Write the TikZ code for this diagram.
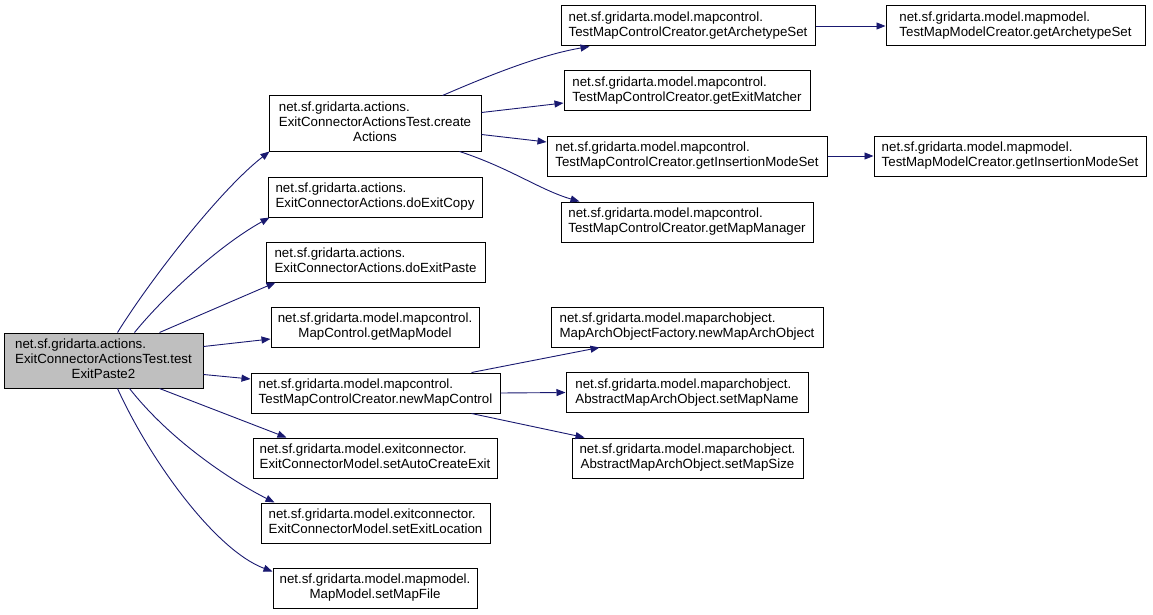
\documentclass[tikz,border=0pt]{standalone}
\usepackage{fontspec}
\setmainfont{Liberation Sans}
\usetikzlibrary{arrows.meta,calc}
\definecolor{edgeblue}{RGB}{25,25,112}
\definecolor{rootgray}{RGB}{191,191,191}
\newcommand{\lbl}[2]{\begin{tabular}{@{}l@{}}#1\\\multicolumn{1}{@{}c@{}}{#2}\end{tabular}}
\begin{document}
\begin{tikzpicture}[x=1pt,y=1pt,
  box/.style={draw=black,line width=1pt,fill=white,inner sep=0pt,minimum height=40pt,
    font=\fontsize{13.3}{15}\selectfont},
  rootbox/.style={box,fill=rootgray},
  edge/.style={draw=edgeblue,line width=0.9pt,-{Triangle[length=9pt,width=7pt]}}]
\useasboundingbox (0,0) rectangle (1153,-615);
% left
\node[rootbox,minimum width=199pt,minimum height=55pt] (root) at (103.5,-360.5) {\lbl{net.sf.gridarta.actions.\\ExitConnectorActionsTest.test}{ExitPaste2}};
% middle column
\node[box,minimum width=212pt,minimum height=55pt] (create) at (375,-123.5) {\lbl{net.sf.gridarta.actions.\\ExitConnectorActionsTest.create}{Actions}};
\node[box,minimum width=214pt] (copy) at (375,-197) {\lbl{net.sf.gridarta.actions.}{ExitConnectorActions.doExitCopy}};
\node[box,minimum width=219pt] (paste) at (375.5,-262) {\lbl{net.sf.gridarta.actions.}{ExitConnectorActions.doExitPaste}};
\node[box,minimum width=208pt] (getmm) at (375,-327) {\lbl{net.sf.gridarta.model.mapcontrol.}{MapControl.getMapModel}};
\node[box,minimum width=249pt] (newmc) at (375.5,-393) {\lbl{net.sf.gridarta.model.mapcontrol.}{TestMapControlCreator.newMapControl}};
\node[box,minimum width=244pt] (autoce) at (375,-458) {\lbl{net.sf.gridarta.model.exitconnector.}{ExitConnectorModel.setAutoCreateExit}};
\node[box,minimum width=229pt] (exitloc) at (375.5,-523) {\lbl{net.sf.gridarta.model.exitconnector.}{ExitConnectorModel.setExitLocation}};
\node[box,minimum width=204pt] (mapfile) at (375,-588) {\lbl{net.sf.gridarta.model.mapmodel.}{MapModel.setMapFile}};
% right column
\node[box,minimum width=254pt] (getarch) at (688,-26) {\lbl{net.sf.gridarta.model.mapcontrol.}{TestMapControlCreator.getArchetypeSet}};
\node[box,minimum width=246pt] (getexit) at (687,-91) {\lbl{net.sf.gridarta.model.mapcontrol.}{TestMapControlCreator.getExitMatcher}};
\node[box,minimum width=280pt] (getins) at (687,-156) {\lbl{net.sf.gridarta.model.mapcontrol.}{TestMapControlCreator.getInsertionModeSet}};
\node[box,minimum width=252pt] (getmgr) at (687,-222) {\lbl{net.sf.gridarta.model.mapcontrol.}{TestMapControlCreator.getMapManager}};
\node[box,minimum width=272pt] (newmao) at (687,-327) {\lbl{net.sf.gridarta.model.maparchobject.}{MapArchObjectFactory.newMapArchObject}};
\node[box,minimum width=242pt] (setname) at (687,-392.5) {\lbl{net.sf.gridarta.model.maparchobject.}{AbstractMapArchObject.setMapName}};
\node[box,minimum width=231pt] (setsize) at (687.5,-458) {\lbl{net.sf.gridarta.model.maparchobject.}{AbstractMapArchObject.setMapSize}};
% far right
\node[box,minimum width=259pt] (mmarch) at (1015.5,-26) {\lbl{net.sf.gridarta.model.mapmodel.}{TestMapModelCreator.getArchetypeSet}};
\node[box,minimum width=272pt] (mmins) at (1010,-156) {\lbl{net.sf.gridarta.model.mapmodel.}{TestMapModelCreator.getInsertionModeSet}};
% edges from root
\draw[edge] ($(root.north west)+(114,0)$) .. controls (150,-280) and (220,-190) .. ($(create.south west)+(1,0)$);
\draw[edge] ($(root.north west)+(131,0)$) .. controls (165,-295) and (220,-245) .. ($(copy.south west)+(2,0)$);
\draw[edge] ($(root.north west)+(156,0)$) -- ($(paste.south west)+(10,0)$);
\draw[edge] ($(root.north east)+(0,-14)$) -- ($(getmm.west)+(0,-12)$);
\draw[edge] ($(root.north east)+(0,-42)$) -- ($(newmc.west)+(0,14)$);
\draw[edge] ($(root.south west)+(156,0)$) -- ($(autoce.north west)+(34,0)$);
\draw[edge] ($(root.south west)+(126,0)$) .. controls (170,-440) and (230,-480) .. ($(exitloc.north west)+(14,0)$);
\draw[edge] ($(root.south west)+(114,0)$) .. controls (150,-460) and (215,-550) .. ($(mapfile.north west)+(0,-4)$);
% edges from createActions
\draw[edge] ($(create.north west)+(174,0)$) .. controls (490,-75) and (540,-55) .. ($(getarch.south west)+(29,0)$);
\draw[edge] ($(create.east)+(0,11)$) -- ($(getexit.west)+(0,-12)$);
\draw[edge] ($(create.east)+(0,-11)$) -- ($(getins.west)+(0,14)$);
\draw[edge] ($(create.south west)+(191,0)$) .. controls (510,-168) and (540,-190) .. ($(getmgr.north west)+(19,0)$);
\draw[edge] (getarch.east) -- (mmarch.west);
\draw[edge] (getins.east) -- (mmins.west);
% edges from newMapControl
\draw[edge] ($(newmc.north west)+(221,0)$) -- ($(newmao.south west)+(49,0)$);
\draw[edge] (newmc.east) -- (setname.west);
\draw[edge] ($(newmc.south west)+(221,0)$) -- ($(setsize.north west)+(13,0)$);
\end{tikzpicture}
\end{document}
